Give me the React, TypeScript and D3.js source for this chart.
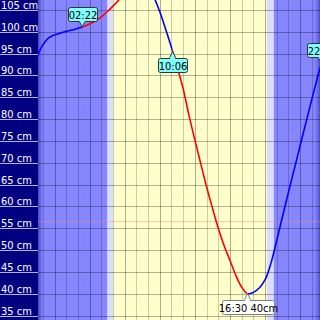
import React from "react";
import * as d3 from "d3";

// tide curve (hours after midnight, level in cm)
const hours = [-1.5, -1, -0.5, 0, 0.5, 1, 1.5, 2, 2.5, 3, 3.5, 4, 4.5, 5, 5.5, 6, 6.5, 7, 7.5, 8, 8.5, 9, 9.5, 10, 10.5, 11, 11.5, 12, 12.5, 13, 13.5, 14, 14.5, 15, 15.5, 16, 16.5, 17, 17.5, 18, 18.5, 19, 19.5, 20, 20.5, 21, 21.5, 22, 22.5, 23];
const levels = [94.2, 97.0, 98.6, 99.3, 99.7, 100.1, 100.4, 100.8, 101.2, 101.8, 102.5, 103.4, 104.6, 105.9, 107.3, 108.8, 110.2, 111.0, 111.2, 110.2, 107.9, 104.6, 100.6, 96.4, 91.8, 86.9, 80.8, 75.2, 69.8, 64.5, 59.6, 55.0, 51.0, 47.6, 44.2, 41.5, 40.0, 40.3, 41.3, 43.2, 47.0, 52.3, 57.8, 63.3, 68.6, 74.0, 79.3, 84.6, 89.8, 94.8];

// y axis ticks
const yTicks = [105, 100, 95, 90, 85, 80, 75, 70, 65, 60, 55, 50, 45, 40, 35];
const meanLevel = 56.6;

// day / night (hours)
const dawn = 4.5, sunrise = 5.0, sunset = 18.15, dusk = 18.75;

// curve colour segments
const segStart = [-1.5, 2.367, 7.3, 10.1, 16.5];
const segEnd = [2.367, 7.3, 10.1, 16.5, 23];
const segKind = ["b", "r", "b", "r", "b"];

// markers
const markerTimes = [2 + 22 / 60, 10 + 6 / 60, 16.5, 22.8];
const markerLabels = ["02:22", "10:06", "16:30 40cm", "22:48"];
const markerAbove = [true, false, false, true];
const markerWhite = [false, false, true, false];

const W = 320, H = 320;
const PL = 38;

export default function App() {
  const x = d3.scaleLinear().domain([0, 24]).range([54.5, 54.5 + 24 * 11.7]);
  const y = d3.scaleLinear().domain([105, 35]).range([10, 315.5]);
  const pts: [number, number][] = hours.map((h, i) => [h, levels[i]]);
  const line = d3
    .line<[number, number]>()
    .x((d) => x(d[0]))
    .y((d) => y(d[1]))
    .curve(d3.curveCatmullRom.alpha(0.5));
  const pathD = line(pts) || "";
  const interp = (t: number) => {
    const i = d3.bisectRight(hours, t) - 1;
    const j = Math.min(i + 1, hours.length - 1);
    const f = (t - hours[i]) / (hours[j] - hours[i] || 1);
    return levels[i] + f * (levels[j] - levels[i]);
  };
  const hourTicks = d3.range(-1, 24);
  const font = "'Liberation Sans Narrow', 'DejaVu Sans Condensed', 'Liberation Sans', sans-serif";

  return (
    <svg width={W} height={H} style={{ position: "fixed", left: 0, top: 0 }} fontFamily={font}>
      <defs>
        <clipPath id="plot">
          <rect x={PL} y={0} width={W - PL} height={H} />
        </clipPath>
        {segStart.map((s, i) => (
          <clipPath id={"seg" + i} key={i}>
            <rect x={x(s)} y={-10} width={x(segEnd[i]) - x(s)} height={H + 20} />
          </clipPath>
        ))}
        <linearGradient id="rshade" x1="0" x2="1" y1="0" y2="0">
          <stop offset="0" stopColor="#8686ff" stopOpacity={0} />
          <stop offset="1" stopColor="#3a3ab0" stopOpacity={0.8} />
        </linearGradient>
        <linearGradient id="lshade" x1="0" x2="1" y1="0" y2="0">
          <stop offset="0" stopColor="#4848c8" />
          <stop offset="1" stopColor="#8686ff" />
        </linearGradient>
      </defs>
      <g clipPath="url(#plot)">
        <rect x={PL} y={0} width={W - PL} height={H} fill="#8686ff" />
        <rect x={x(dawn)} y={0} width={x(dusk) - x(dawn)} height={H} fill="#dcdcff" />
        <rect x={x(sunrise)} y={0} width={x(sunset) - x(sunrise)} height={H} fill="#ffffcc" />
        <rect x={PL} y={0} width={5} height={H} fill="url(#lshade)" />
        <rect x={W - 7} y={0} width={7} height={H} fill="url(#rshade)" />
        {hourTicks.map((h) => (
          <line
            key={"v" + h}
            x1={Math.round(x(h)) + 0.5}
            x2={Math.round(x(h)) + 0.5}
            y1={0}
            y2={H}
            stroke="#000"
            strokeOpacity={h % 3 === 0 ? 0.32 : 0.2}
            strokeWidth={1}
          />
        ))}
        {yTicks.map((v) => (
          <line key={"h" + v} x1={PL} x2={W} y1={Math.round(y(v)) + 0.5} y2={Math.round(y(v)) + 0.5} stroke="#000" strokeOpacity={0.3} />
        ))}
        <line x1={PL} x2={W} y1={Math.round(y(meanLevel)) + 0.5} y2={Math.round(y(meanLevel)) + 0.5} stroke="#ff8080" strokeOpacity={0.45} />
        {segStart.map((s, i) => (
          <path
            key={"p" + i}
            d={pathD}
            fill="none"
            stroke={segKind[i] === "r" ? "#ff0000" : "#0000ff"}
            strokeWidth={1.6}
            clipPath={"url(#seg" + i + ")"}
          />
        ))}
        {markerTimes.map((t, i) => {
          const px = x(t);
          const py = y(interp(t));
          const label = markerLabels[i];
          const bw = markerWhite[i] ? 52 : 29;
          const bh = 14;
          const above = markerAbove[i];
          const by = above ? py - 6 - bh : py + 6;
          const bx = markerWhite[i] ? px - 26 : px - 14.5;
          const fill = markerWhite[i] ? "#ffffff" : "#80ffff";
          const stroke = markerWhite[i] ? "#808080" : "#333333";
          const tri = above
            ? `M${px - 3},${by + bh} L${px},${py} L${px + 3},${by + bh}`
            : `M${px - 3},${by} L${px},${py} L${px + 3},${by}`;
          return (
            <g key={"m" + i}>
              <rect x={Math.round(bx) + 0.5} y={Math.round(by) + 0.5} width={bw} height={bh} rx={2} fill={fill} stroke={stroke} />
              <path d={tri} fill={fill} stroke={stroke} />
              <rect x={px - 2.5} y={above ? by + bh - 1 : by} width={5} height={2} fill={fill} />
              <text x={Math.round(bx) + 0.5 + bw / 2} y={Math.round(by) + 11.5} textAnchor="middle" fontSize={11} fill="#000">
                {label}
              </text>
            </g>
          );
        })}
      </g>
      <rect x={0} y={0} width={PL} height={H} fill="#000080" />
      {yTicks.map((v) => (
        <g key={"t" + v}>
          <line x1={0} x2={PL} y1={Math.round(y(v)) + 0.5} y2={Math.round(y(v)) + 0.5} stroke="#d0d0ff" strokeOpacity={0.85} />
          <text x={1} y={Math.round(y(v)) - 1} fontSize={11} fill="#ffffff">
            {v + " cm"}
          </text>
        </g>
      ))}
    </svg>
  );
}
